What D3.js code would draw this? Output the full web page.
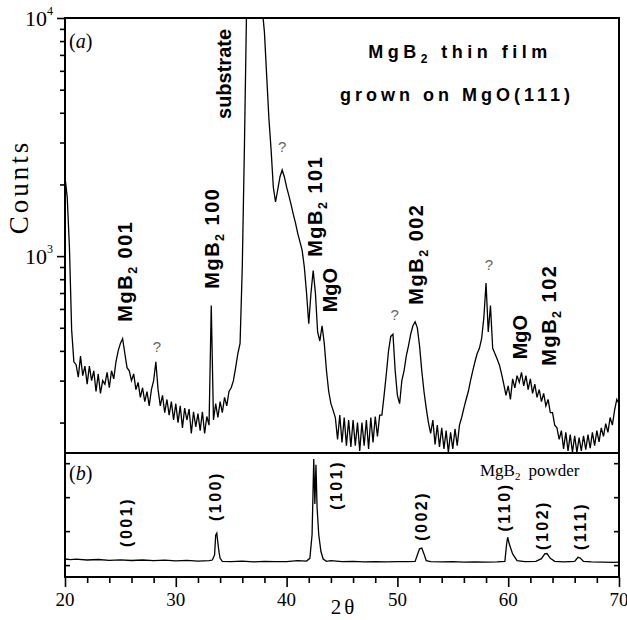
<!DOCTYPE html>
<html>
<head>
<meta charset="utf-8">
<script src="https://cdn.jsdelivr.net/npm/d3@7"></script>
<style>
  body { margin: 0; background: #fff; }
  svg { display: block; }
</style>
</head>
<body>
<div class="container"></div>
<script>
// film scan (a), counts sampled every 0.2 deg from 20 to 70
const filmStart = 20;
const filmStep = 0.2;
const filmCounts = [
  2150, 1770, 1090, 490, 360,
  350, 310, 380, 315, 345,
  290, 345, 300, 330, 270,
  320, 265, 300, 290, 325,
  280, 330, 305, 360, 400,
  430, 450, 390, 340, 330,
  300, 320, 275, 295, 255,
  280, 245, 270, 235, 275,
  300, 360, 275, 235, 260,
  220, 250, 215, 245, 205,
  240, 200, 235, 190, 230,
  205, 228, 180, 222, 192,
  218, 185, 222, 180, 212,
  195, 620, 205, 240, 210,
  245, 220, 255, 235, 270,
  280, 300, 340, 390, 430,
  900, 3000, 12000, 20000, 30000,
  30000, 30000, 25000, 16000, 11000,
  8700, 5750, 3800, 2800, 1950,
  1690, 1900, 2150, 2300, 2150,
  1950, 1800, 1650, 1500, 1380,
  1250, 1150, 1060, 900, 700,
  520, 700, 870, 700, 480,
  440, 510, 430, 330, 270,
  240, 225, 210, 170, 215,
  165, 210, 160, 205, 158,
  205, 160, 200, 152, 200,
  160, 205, 155, 210, 165,
  212, 175, 215, 215, 260,
  320, 400, 460, 470, 330,
  260, 240, 300, 330, 380,
  420, 470, 510, 530, 500,
  420, 330, 270, 230, 200,
  180, 205, 162, 195, 158,
  190, 155, 185, 150, 182,
  155, 188, 160, 195, 210,
  230, 250, 270, 300, 330,
  360, 390, 410, 450, 550,
  770, 480, 620, 410, 390,
  370, 350, 320, 290, 260,
  285, 250, 305, 280, 315,
  295, 325, 285, 315, 275,
  305, 265, 290, 255, 275,
  245, 265, 235, 250, 220,
  220, 195, 190, 170, 185,
  155, 182, 152, 178, 150,
  176, 150, 173, 152, 176,
  154, 178, 156, 182, 160,
  185, 166, 190, 175, 198,
  182, 210, 195, 225, 250,
  240
];

// powder pattern (b)
const powderTheta = [
  20, 20.5, 21, 22, 23, 24, 25, 26, 27, 28, 29, 30, 31, 32, 33,
  33.3, 33.5, 33.6, 33.7, 33.8, 33.9, 34.0, 34.2,
  35, 36, 37, 38, 39, 40, 41, 41.8,
  42.1, 42.3, 42.45, 42.55, 42.65, 42.75, 42.9, 43.1, 43.3, 43.6,
  44, 45, 46, 47, 48, 49, 50, 51, 51.6,
  51.8, 52.0, 52.2, 52.4, 52.6,
  53, 54, 55, 56, 57, 58, 59, 59.7,
  59.85, 59.95, 60.1, 60.4, 60.8,
  61.5, 62.5, 63, 63.3, 63.5, 63.8, 64.2,
  65, 66, 66.3, 66.5, 66.8, 67.5, 68.5, 69.5, 70
];
const powderIntensity = [
  180, 160, 175, 150, 165, 140, 155, 135, 150, 130, 145, 125, 140, 120, 130,
  150, 300, 880, 940, 650, 380, 200, 110,
  100, 115, 95, 110, 100, 105, 130, 120,
  200, 900, 3120, 1800, 2950, 1700, 900, 400, 180, 110,
  130, 100, 110, 95, 105, 95, 100, 105, 110,
  300, 480, 500, 330, 130,
  100, 95, 100, 90, 95, 90, 95, 110,
  600, 820, 620, 330, 130,
  100, 110, 190, 330, 340, 200, 110,
  95, 110, 230, 210, 110, 95, 90, 80, 85
];

const xTicks = [20, 30, 40, 50, 60, 70];
const xMinorTicks = [22, 24, 26, 28, 32, 34, 36, 38, 42, 44, 46, 48, 52, 54, 56, 58, 62, 64, 66, 68];
const filmMajorTicks = [1000, 10000];
const filmMinorTicks = [200, 300, 400, 500, 600, 700, 800, 900, 2000, 3000, 4000, 5000, 6000, 7000, 8000, 9000];
const powderTicks = [0, 1000, 2000, 3000];

// peak annotations, anchored in data coordinates
const filmLabels = [
  { name: 'substrate', theta: 34.35, counts: 5820 },
  { name: 'MgB|2| 001', theta: 25.4, counts: 865 },
  { name: 'MgB|2| 100', theta: 33.25, counts: 1190 },
  { name: 'MgB|2| 101', theta: 42.55, counts: 1620 },
  { name: 'MgO', theta: 43.95, counts: 720 },
  { name: 'MgB|2| 002', theta: 51.65, counts: 1020 },
  { name: 'MgO', theta: 61.05, counts: 457 },
  { name: 'MgB|2| 102', theta: 63.65, counts: 565 }
];
const unknownPeaks = [
  { theta: 28.3, counts: 419 },
  { theta: 39.6, counts: 2900 },
  { theta: 49.75, counts: 570 },
  { theta: 58.25, counts: 925 }
];
const powderLabels = [
  { name: '(001)', theta: 25.5, intensity: 1270 },
  { name: '(100)', theta: 33.55, intensity: 2030 },
  { name: '(101)', theta: 44.45, intensity: 2360 },
  { name: '(002)', theta: 52.15, intensity: 1450 },
  { name: '(110)', theta: 59.7, intensity: 1710 },
  { name: '(102)', theta: 63.05, intensity: 1180 },
  { name: '(111)', theta: 66.5, intensity: 1150 }
];

const width = 627;
const height = 620;
const left = 65;
const right = 619;
const topY = 18;
const splitY = 453;
const bottomY = 577;

const serif = '"Liberation Serif", "Times New Roman", serif';
const sans = '"Liberation Sans", Arial, sans-serif';

const svg = d3.select('.container').append('svg').attr('width', width).attr('height', height);

const xScale = d3.scaleLinear().domain([20, 70]).range([left, right]);
const yFilm = d3.scaleLog().domain([149, 10000]).range([splitY, topY]);
const yPowder = d3.scaleLinear().domain([-350, 3300]).range([bottomY, splitY]);

svg.append('clipPath').attr('id', 'clip-a')
  .append('rect').attr('x', left).attr('y', topY).attr('width', right - left).attr('height', splitY - topY);
svg.append('clipPath').attr('id', 'clip-b')
  .append('rect').attr('x', left).attr('y', splitY).attr('width', right - left).attr('height', bottomY - splitY);

// traces
const filmData = filmCounts.map((c, i) => ({ theta: filmStart + i * filmStep, counts: c }));
const filmLine = d3.line().x(d => xScale(d.theta)).y(d => yFilm(d.counts));
svg.append('path')
  .datum(filmData)
  .attr('clip-path', 'url(#clip-a)')
  .attr('fill', 'none')
  .attr('stroke', '#000')
  .attr('stroke-width', 1.3)
  .attr('d', filmLine);

const powderData = powderTheta.map((t, i) => ({ theta: t, intensity: powderIntensity[i] }));
const powderLine = d3.line().x(d => xScale(d.theta)).y(d => yPowder(d.intensity));
svg.append('path')
  .datum(powderData)
  .attr('clip-path', 'url(#clip-b)')
  .attr('fill', 'none')
  .attr('stroke', '#000')
  .attr('stroke-width', 1.3)
  .attr('d', powderLine);

// axes
const axes = svg.append('g').attr('class', 'axes');

axes.append('g').attr('transform', `translate(0,${bottomY})`)
  .call(d3.axisBottom(xScale).tickValues(xTicks).tickSize(10).tickFormat(''));
axes.append('g').attr('transform', `translate(0,${bottomY})`)
  .call(d3.axisBottom(xScale).tickValues(xMinorTicks).tickSize(6).tickFormat(''));

axes.append('g').attr('transform', `translate(${left},0)`)
  .call(d3.axisLeft(yFilm).tickValues(filmMajorTicks).tickSize(8).tickFormat(''));
axes.append('g').attr('transform', `translate(${left},0)`)
  .call(d3.axisLeft(yFilm).tickValues(filmMinorTicks).tickSize(5).tickFormat(''));

axes.append('g').attr('transform', `translate(${left},0)`)
  .call(d3.axisRight(yPowder).tickValues(powderTicks).tickSize(5).tickFormat(''));
axes.append('g').attr('transform', `translate(${right},0)`)
  .call(d3.axisLeft(yPowder).tickValues(powderTicks).tickSize(5).tickFormat(''));

axes.selectAll('.domain').remove();
axes.selectAll('.tick line').attr('stroke', '#000').attr('stroke-width', 1.6);

// frames
[[topY, splitY], [splitY, bottomY]].forEach(([y0, y1]) => {
  svg.append('rect')
    .attr('x', left).attr('y', y0)
    .attr('width', right - left).attr('height', y1 - y0)
    .attr('fill', 'none').attr('stroke', '#000').attr('stroke-width', 2);
});

// tick labels
svg.append('g').selectAll('text').data(xTicks).enter().append('text')
  .attr('x', d => xScale(d))
  .attr('y', 606)
  .attr('text-anchor', 'middle')
  .attr('font-family', serif)
  .attr('font-size', 19)
  .text(d => d);

const yLabels = svg.append('g').selectAll('text').data(filmMajorTicks).enter().append('text')
  .attr('x', 53)
  .attr('y', d => yFilm(d) + 8)
  .attr('text-anchor', 'end')
  .attr('font-family', serif)
  .attr('font-size', 22);
yLabels.append('tspan').text('10');
yLabels.append('tspan').attr('font-size', 12).attr('dy', -11).text(d => Math.round(Math.log10(d)));

svg.append('text')
  .attr('transform', `translate(28,187) rotate(-90)`)
  .attr('text-anchor', 'middle')
  .attr('font-family', serif)
  .attr('font-size', 27)
  .attr('letter-spacing', 3)
  .text('Counts');

svg.append('text')
  .attr('x', (left + right) / 2 + 2)
  .attr('y', 614)
  .attr('text-anchor', 'middle')
  .attr('font-family', serif)
  .attr('font-size', 21)
  .attr('letter-spacing', 3)
  .text('2θ');

// panel tags
svg.append('text')
  .attr('x', left + 4).attr('y', topY + 30)
  .attr('font-family', serif).attr('font-size', 20)
  .html('(<tspan font-style="italic">a</tspan>)');
svg.append('text')
  .attr('x', left + 4).attr('y', splitY + 27)
  .attr('font-family', serif).attr('font-size', 20)
  .html('(<tspan font-style="italic">b</tspan>)');

// title
const title1 = svg.append('text')
  .attr('x', 460).attr('y', 58)
  .attr('text-anchor', 'middle')
  .attr('font-family', sans).attr('font-weight', 'bold')
  .attr('font-size', 18).attr('letter-spacing', 4.5);
title1.append('tspan').text('MgB');
title1.append('tspan').attr('font-size', 12).attr('dy', 5).text('2');
title1.append('tspan').attr('dy', -5).text(' thin film');

svg.append('text')
  .attr('x', 457).attr('y', 101)
  .attr('text-anchor', 'middle')
  .attr('font-family', sans).attr('font-weight', 'bold')
  .attr('font-size', 18).attr('letter-spacing', 4)
  .text('grown on MgO(111)');

// rotated labels with optional subscript written as |2|
const addRotated = (g, name, cx, cy, size, spacing) => {
  const t = g.append('text')
    .attr('transform', `translate(${cx},${cy}) rotate(-90)`)
    .attr('y', size * 0.35)
    .attr('text-anchor', 'middle')
    .attr('font-family', sans).attr('font-weight', 'bold')
    .attr('font-size', size).attr('letter-spacing', spacing);
  const parts = name.split('|');
  if (parts.length === 1) {
    t.text(name);
  } else {
    t.append('tspan').text(parts[0]);
    t.append('tspan').attr('font-size', size * 0.62).attr('dy', size * 0.28).text(parts[1]);
    t.append('tspan').attr('dy', -size * 0.28).text(parts[2]);
  }
};

const filmLabelGroup = svg.append('g');
filmLabels.forEach(l => {
  addRotated(filmLabelGroup, l.name, xScale(l.theta), yFilm(l.counts), 20, l.name.includes('|') ? 1.5 : 0);
});

svg.append('g').selectAll('text').data(unknownPeaks).enter().append('text')
  .attr('x', d => xScale(d.theta))
  .attr('y', d => yFilm(d.counts) + 6)
  .attr('text-anchor', 'middle')
  .attr('font-family', sans)
  .attr('font-size', 15)
  .attr('fill', '#666')
  .text('?');

const powderLabelGroup = svg.append('g');
powderLabels.forEach(l => {
  addRotated(powderLabelGroup, l.name, xScale(l.theta), yPowder(l.intensity), 16, 2.5);
});

const powderTitle = svg.append('text')
  .attr('x', xScale(57.45)).attr('y', yPowder(2623))
  .attr('font-family', serif).attr('font-size', 17);
powderTitle.append('tspan').text('MgB');
powderTitle.append('tspan').attr('font-size', 11).attr('dy', 4).text('2');
powderTitle.append('tspan').attr('dy', -4).attr('dx', 8).text('powder');
</script>
</body>
</html>
